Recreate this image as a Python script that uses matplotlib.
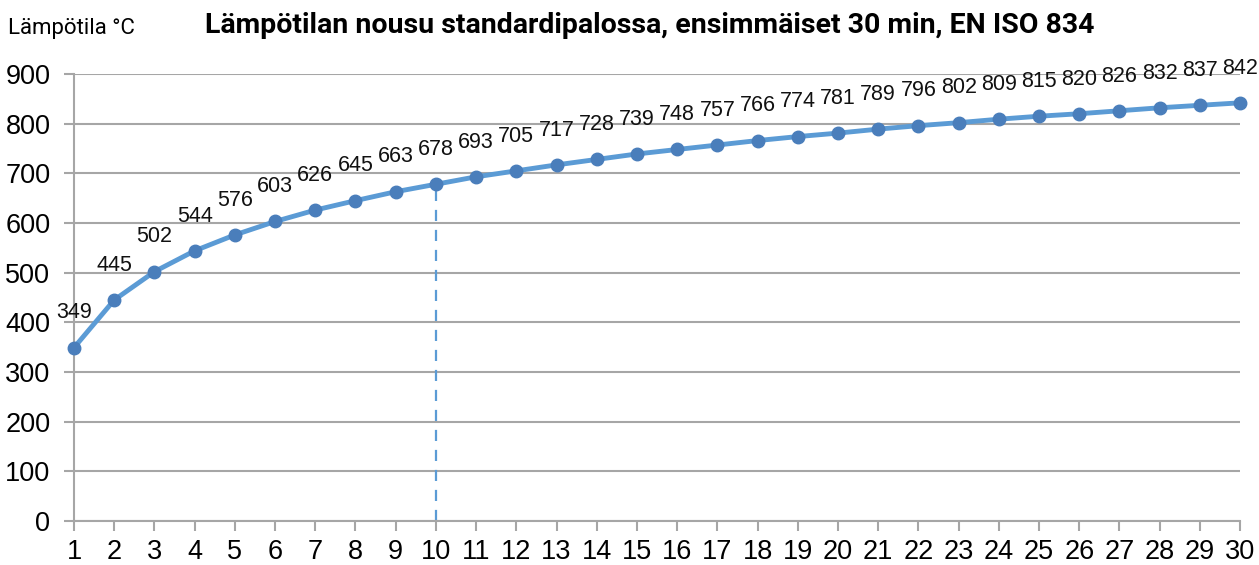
import matplotlib
matplotlib.use("Agg")
import matplotlib.pyplot as plt

minutes = list(range(1, 31))
temps = [349, 445, 502, 544, 576, 603, 626, 645, 663, 678,
         693, 705, 717, 728, 739, 748, 757, 766, 774, 781,
         789, 796, 802, 809, 815, 820, 826, 832, 837, 842]
yticks = [0, 100, 200, 300, 400, 500, 600, 700, 800, 900]
mark_min = 10

fig = plt.figure(figsize=(12.59, 5.65), dpi=100)
ax = fig.add_axes([0.0588, 0.078, 0.9262, 0.791])

grey = '#a6a6a6'
ax.plot(minutes, temps, color='#5b9bd5', lw=3.5, marker='o', ms=9,
        mfc='#4a7ebb', mec='#4a7ebb', zorder=3, clip_on=False)
ax.plot([mark_min, mark_min], [0, temps[mark_min - 1]], color='#5b9bd5',
        lw=1.6, ls=(0, (5, 4)), zorder=2)

for x, y in zip(minutes, temps):
    ax.annotate(str(y), (x, y), xytext=(0, 25), textcoords='offset points',
                ha='center', va='center', fontsize=15.5,
                family='Liberation Sans', color='#111111')

ax.set_xlim(1, 30)
ax.set_ylim(0, 900)
ax.set_xticks(minutes)
ax.set_yticks(yticks)
ax.grid(axis='y', color=grey, lw=1.5)
ax.set_axisbelow(True)
for s in ['top', 'right']:
    ax.spines[s].set_visible(False)
for s in ['left', 'bottom']:
    ax.spines[s].set_color(grey)
    ax.spines[s].set_linewidth(1.5)
ax.tick_params(axis='both', colors=grey, width=1.5, length=7,
               labelcolor='black', labelsize=19.5)
ax.tick_params(axis='x', pad=6)
ax.tick_params(axis='y', pad=10)
for lbl in ax.get_xticklabels() + ax.get_yticklabels():
    lbl.set_family('Liberation Sans')

fig.text(0.006, 0.95, 'Lämpötila °C', fontsize=16, family='Roboto', va='center')
fig.text(0.516, 0.955, 'Lämpötilan nousu standardipalossa, ensimmäiset 30 min, EN ISO 834',
         fontsize=20.5, family='Roboto', weight='bold', ha='center', va='center')

fig.savefig('out.png', dpi=100)
